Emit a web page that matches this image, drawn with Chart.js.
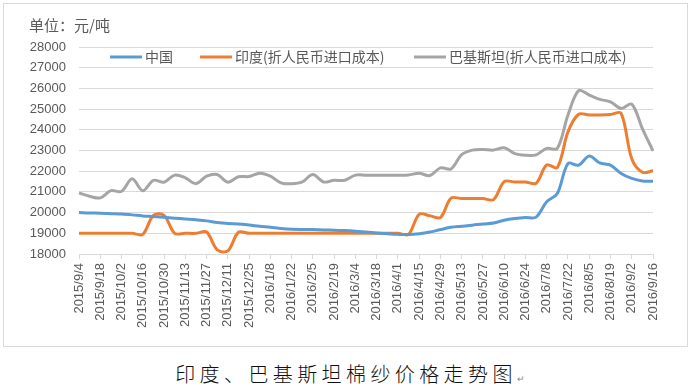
<!DOCTYPE html>
<html lang="zh">
<head>
<meta charset="utf-8">
<script src="https://cdn.jsdelivr.net/npm/chart.js@4.4.1/dist/chart.umd.min.js"></script>
<style>
  body { margin: 0; background: #fff; width: 692px; height: 391px; overflow: hidden; position: relative; }
  #marco { position: absolute; left: 3px; top: 3px; width: 683px; height: 342px; border: 1px solid #d9d9d9; }
  #grafico { position: absolute; left: 0; top: 0; }
  #pie { position: absolute; left: 4px; top: 361px; width: 692px; text-align: center; font-family: "Noto Sans CJK SC", sans-serif; font-size: 20px; font-weight: 300; letter-spacing: 4.4px; color: #111; line-height: 26px; }
  #pie span { font-size: 9px; color: #888; letter-spacing: 0; }
</style>
</head>
<body>
<div id="marco"></div>
<canvas id="grafico" width="692" height="350"></canvas>
<div id="pie">印度、巴基斯坦棉纱价格走势图<span>↵</span></div>

<script>
const fechas = [
    '2015/9/4', '2015/9/11', '2015/9/18', '2015/9/25', '2015/10/2', '2015/10/9', '2015/10/16', '2015/10/23',
    '2015/10/30', '2015/11/6', '2015/11/13', '2015/11/20', '2015/11/27', '2015/12/4', '2015/12/11', '2015/12/18',
    '2015/12/25', '2016/1/1', '2016/1/8', '2016/1/15', '2016/1/22', '2016/1/29', '2016/2/5', '2016/2/12',
    '2016/2/19', '2016/2/26', '2016/3/4', '2016/3/11', '2016/3/18', '2016/3/25', '2016/4/1', '2016/4/8',
    '2016/4/15', '2016/4/22', '2016/4/29', '2016/5/6', '2016/5/13', '2016/5/20', '2016/5/27', '2016/6/3',
    '2016/6/10', '2016/6/17', '2016/6/24', '2016/7/1', '2016/7/8', '2016/7/15', '2016/7/22', '2016/7/29',
    '2016/8/5', '2016/8/12', '2016/8/19', '2016/8/26', '2016/9/2', '2016/9/9', '2016/9/16'
];

const nombres = ['中国', '印度(折人民币进口成本)', '巴基斯坦(折人民币进口成本)'];

const china = [
    20000, 19980, 19970, 19950, 19930, 19890, 19840, 19810, 19770, 19730, 19690, 19650, 19600, 19520, 19470, 19450,
    19400, 19340, 19290, 19230, 19190, 19180, 19180, 19160, 19150, 19130, 19100, 19060, 19020, 18980, 18950, 18940,
    18980, 19060, 19180, 19290, 19340, 19390, 19450, 19500, 19630, 19710, 19760, 19780, 20520, 20920, 22370, 22290,
    22730, 22400, 22290, 21890, 21650, 21530, 21520
];

const india = [
    19000, 19000, 19000, 19000, 19000, 19000, 18950, 19870, 19870, 19000, 19000, 19000, 19060, 18200, 18150, 19050,
    19000, 19000, 19000, 19000, 19000, 19000, 19000, 19000, 19000, 19000, 19000, 19000, 19000, 19000, 19000, 18950,
    19920, 19850, 19760, 20700, 20680, 20680, 20680, 20630, 21500, 21480, 21480, 21420, 22300, 22180, 23900, 24750,
    24720, 24720, 24740, 24800, 22600, 21950, 22020
];

const pakistan = [
    20950, 20790, 20710, 21060, 21030, 21630, 21060, 21560, 21470, 21810, 21680, 21400, 21760, 21840, 21470, 21730,
    21740, 21900, 21760, 21440, 21390, 21480, 21840, 21480, 21560, 21560, 21810, 21810, 21810, 21810, 21810, 21820,
    21900, 21790, 22160, 22110, 22800, 23020, 23050, 23020, 23130, 22850, 22770, 22790, 23100, 23100, 24710, 25890,
    25680, 25470, 25350, 25030, 25240, 24060, 22980
];

const colores = ['#5B9BD5', '#ED7D31', '#A5A5A5'];
const textoGris = '#595959';
const fuente = '"Liberation Sans", "Noto Sans CJK SC", sans-serif';

// titulo de unidades y leyenda dentro del area del grafico
const extras = {
    id: 'extras',
    afterDraw(chart) {
        const ctx = chart.ctx;
        ctx.save();
        ctx.fillStyle = textoGris;
        ctx.textBaseline = 'middle';
        ctx.font = '15px "Noto Sans CJK SC", sans-serif';
        ctx.fillText('单位：元/吨', 29, 25);

        const posX = [110, 200, 414];
        const y = 57;
        ctx.font = '14px "Noto Sans CJK SC", sans-serif';
        chart.data.datasets.forEach((ds, i) => {
            ctx.strokeStyle = ds.borderColor;
            ctx.lineWidth = 3;
            ctx.beginPath();
            ctx.moveTo(posX[i], y);
            ctx.lineTo(posX[i] + 32, y);
            ctx.stroke();
            ctx.fillText(ds.label, posX[i] + 35, y);
        });
        ctx.restore();
    }
};

function crearGrafico() {
    const ctx = document.getElementById('grafico').getContext('2d');
    const series = [china, india, pakistan];

    new Chart(ctx, {
        type: 'line',
        data: {
            labels: fechas,
            datasets: series.map((valores, i) => ({
                label: nombres[i],
                data: valores,
                borderColor: colores[i],
                backgroundColor: colores[i],
                borderWidth: 3,
                pointRadius: 0,
                tension: 0.33,
                fill: false
            }))
        },
        options: {
            responsive: false,
            animation: false,
            layout: { padding: { left: 0, right: 39, top: 47, bottom: 0 } },
            plugins: {
                legend: { display: false },
                tooltip: { enabled: false }
            },
            scales: {
                x: {
                    offset: false,
                    grid: {
                        drawOnChartArea: false,
                        tickLength: 5,
                        tickColor: c => (c.index % 2 === 0 ? '#d9d9d9' : 'transparent')
                    },
                    border: { color: '#d9d9d9' },
                    ticks: {
                        autoSkip: false,
                        maxRotation: 90,
                        minRotation: 90,
                        padding: 4,
                        color: textoGris,
                        font: { family: fuente, size: 13 },
                        callback: (v, i) => (i % 2 === 0 ? fechas[i] : '')
                    },
                    afterFit: s => { s.height = 96; }
                },
                y: {
                    min: 18000,
                    max: 28000,
                    grid: { color: '#d9d9d9', drawTicks: false },
                    border: { display: false },
                    ticks: {
                        stepSize: 1000,
                        padding: 13,
                        color: textoGris,
                        font: { family: fuente, size: 13 },
                        callback: v => String(v)
                    },
                    afterFit: s => { s.width = 79; }
                }
            }
        },
        plugins: [extras]
    });
}

document.addEventListener('DOMContentLoaded', crearGrafico);
</script>
</body>
</html>
